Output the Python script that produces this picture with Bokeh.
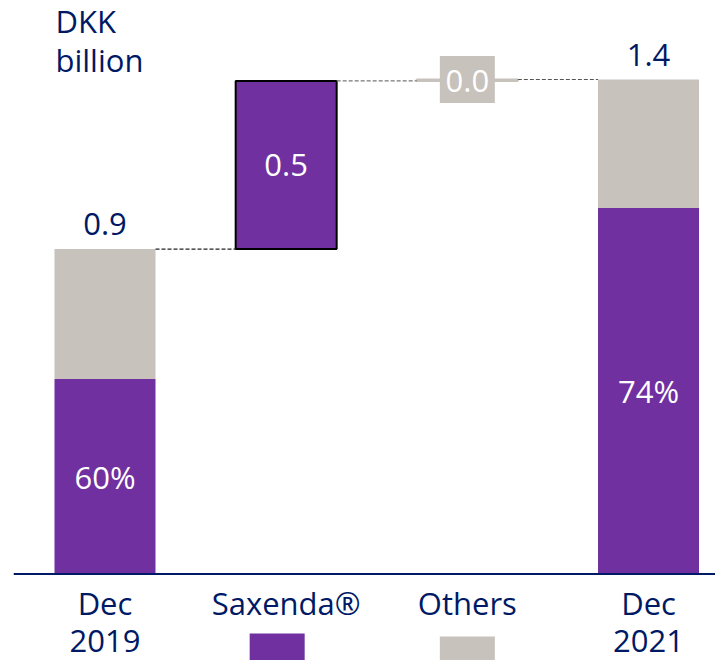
from bokeh.plotting import figure
from bokeh.models import Range1d, Span
from bokeh.embed import file_html
from bokeh.resources import INLINE
from bokeh.core.properties import value

# ---------------- data ----------------
cat_line1 = ["Dec", "Saxenda®", "Others", "Dec"]
cat_line2 = ["2019", "", "", "2021"]
start_total = 0.92          # Dec 2019, DKK billion
saxenda_change = 0.476      # Saxenda® contribution
others_change = 0.004       # Others contribution
end_total = 1.40            # Dec 2021
share_start = 0.60          # Saxenda share Dec 2019
share_end = 0.74            # Saxenda share Dec 2021
total_labels = ["0.9", "1.4"]
change_labels = ["0.5", "0.0"]
share_labels = ["60%", "74%"]
unit_label = ["DKK", "billion"]

# ---------------- style ----------------
NAVY = "#001965"
PURPLE = "#70309F"
GREY = "#C7C2BB"
FONT = "Open Sans"
FS = "31px"
BASE_FIX = 12            # renderer places alphabetic baseline ~12px low

W, H = 715, 660
LEFT = 13
ZERO_PX = 573.5          # pixel row of value 0 (from top)
PX_PER_UNIT = 353.2
CAT_PX = 181.17
CAT0_PX = 104.5
BAR_W = 0.5575

x_start = -(CAT0_PX - LEFT) / CAT_PX
x_end = x_start + (W - LEFT) / CAT_PX
y_end = ZERO_PX / PX_PER_UNIT
y_start = -(H - ZERO_PX) / PX_PER_UNIT

def px_y(py):
    return (ZERO_PX - py) / PX_PER_UNIT

def px_x(px):
    return x_start + (px - LEFT) / CAT_PX

p = figure(width=W, height=H, output_backend="svg", toolbar_location=None,
           x_range=Range1d(x_start, x_end), y_range=Range1d(y_start, y_end),
           min_border_left=LEFT, min_border_right=0, min_border_top=0, min_border_bottom=0)
p.xaxis.visible = False
p.yaxis.visible = False
p.grid.visible = False
p.outline_line_color = None
p.background_fill_color = "white"
p.border_fill_color = "white"

xs = [0, 1, 2, 3]
totals_x = [xs[0], xs[3]]
totals = [start_total, end_total]
shares = [share_start, share_end]
purple_tops = [t * s for t, s in zip(totals, shares)]

# total bars: purple bottom, grey top
p.vbar(x=totals_x, bottom=0, top=purple_tops, width=BAR_W, fill_color=PURPLE, line_color=None)
p.vbar(x=totals_x, bottom=purple_tops, top=totals, width=BAR_W, fill_color=GREY, line_color=None)

# Saxenda change bar
sax_bottom = start_total
sax_top = start_total + saxenda_change
p.vbar(x=[xs[1]], bottom=[sax_bottom], top=[sax_top], width=BAR_W,
       fill_color=PURPLE, line_color="black", line_width=2)

# Others change bar (near zero)
oth_bottom = sax_top
oth_top = sax_top + others_change
p.vbar(x=[xs[2]], bottom=[oth_bottom], top=[oth_top], width=BAR_W,
       fill_color=GREY, line_color=GREY, line_width=2)

# connectors
half = BAR_W / 2
p.segment(x0=[xs[0] + half], x1=[xs[1] - half], y0=[start_total], y1=[start_total],
          line_color="#222222", line_width=1.2, line_dash="4 2")
p.segment(x0=[xs[1] + half], x1=[xs[2] - half], y0=[sax_top], y1=[sax_top],
          line_color="#777777", line_width=1.2, line_dash="4 2")
p.segment(x0=[xs[2] + half], x1=[xs[3] - half], y0=[end_total], y1=[end_total],
          line_color="#555555", line_width=1.2, line_dash="4 2")

# baseline
p.add_layout(Span(location=0, dimension="width", line_color=NAVY, line_width=2))

# total labels above bars
p.text(x=totals_x, y=totals, text=total_labels, text_font=value(FONT), text_font_size=FS,
       text_color=NAVY, text_align="center", text_baseline="alphabetic", y_offset=-13 - BASE_FIX)

# share labels inside purple parts
p.text(x=totals_x, y=[t / 2 for t in purple_tops], text=share_labels, text_font=value(FONT),
       text_font_size=FS, text_color="white", text_align="center", text_baseline="middle")

# change labels
p.text(x=[xs[1]], y=[(sax_bottom + sax_top) / 2], text=[change_labels[0]], text_font=value(FONT),
       text_font_size=FS, text_color="white", text_align="center", text_baseline="middle")
p.rect(x=[xs[2]], y=[oth_top], width=55, height=47, width_units="screen", height_units="screen",
       fill_color=GREY, line_color=None)
p.text(x=[xs[2]], y=[oth_top], text=[change_labels[1]], text_font=value(FONT),
       text_font_size=FS, text_color="white", text_align="center", text_baseline="middle", y_offset=1)

# category labels
p.text(x=xs, y=[0] * 4, text=cat_line1, text_font=value(FONT), text_font_size=FS,
       text_color=NAVY, text_align="center", text_baseline="alphabetic", y_offset=41 - BASE_FIX)
p.text(x=xs, y=[0] * 4, text=cat_line2, text_font=value(FONT), text_font_size=FS,
       text_color=NAVY, text_align="center", text_baseline="alphabetic", y_offset=79 - BASE_FIX)

# colour keys under Saxenda® and Others
p.rect(x=[xs[1] - 9 / CAT_PX], y=[px_y(648)], width=55, height=30, width_units="screen",
       height_units="screen", fill_color=PURPLE, line_color=None)
p.rect(x=[xs[2]], y=[px_y(651)], width=55, height=30, width_units="screen",
       height_units="screen", fill_color=GREY, line_color=None)

# unit label
p.text(x=[px_x(55)] * 2, y=[px_y(32.3 - BASE_FIX), px_y(71 - BASE_FIX)], text=unit_label,
       text_font=value(FONT), text_font_size=FS, text_color=NAVY, text_align="left",
       text_baseline="alphabetic")

open("out.html", "w").write(file_html(p, INLINE))
